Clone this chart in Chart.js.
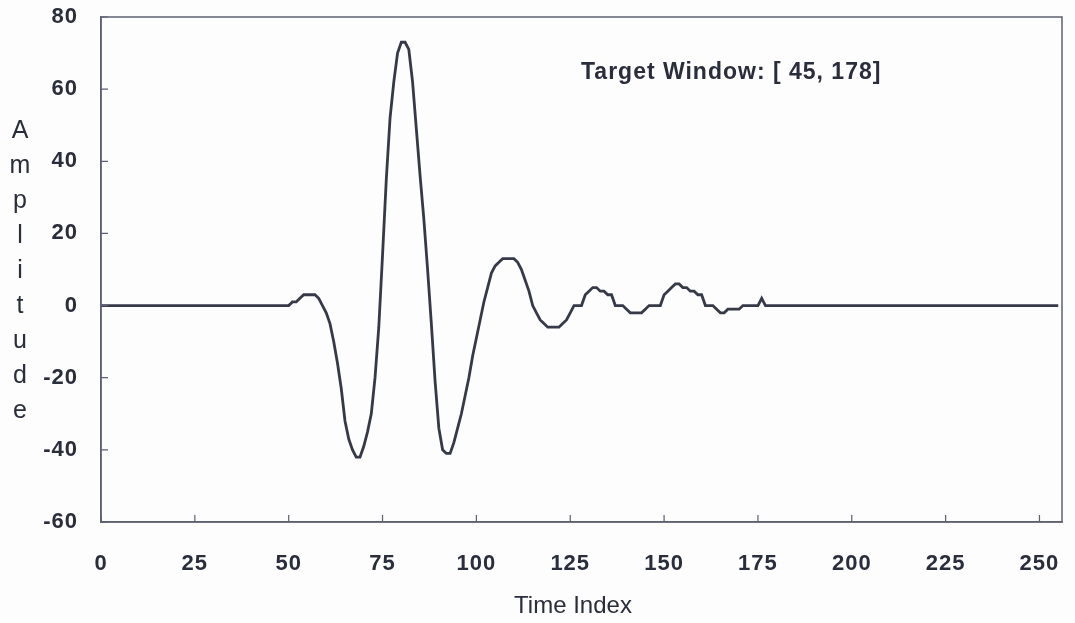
<!DOCTYPE html>
<html>
<head>
<meta charset="utf-8">
<script src="https://cdn.jsdelivr.net/npm/chart.js@4/dist/chart.umd.min.js"></script>
<style>
  html, body { margin: 0; padding: 0; background: #fdfdfd; }
  #waveChart { display: block; }
</style>
</head>
<body>
<canvas id="waveChart" width="1075" height="623"></canvas>
<script>
// sample positions along the time axis (flat baseline before 50 and after 178)
const timeIndex = [
  0,
  50, 51, 52, 53, 54, 55, 56, 57, 58, 59,
  60, 61, 62, 63, 64, 65, 66, 67, 68, 69,
  70, 71, 72, 73, 74, 75, 76, 77, 78, 79,
  80, 81, 82, 83, 84, 85, 86, 87, 88, 89,
  90, 91, 92, 93, 94, 95, 96, 97, 98, 99,
  100, 101, 102, 103, 104, 105, 106, 107, 108, 109,
  110, 111, 112, 113, 114, 115, 116, 117, 118, 119,
  120, 121, 122, 123, 124, 125, 126, 127, 128, 129,
  130, 131, 132, 133, 134, 135, 136, 137, 138, 139,
  140, 141, 142, 143, 144, 145, 146, 147, 148, 149,
  150, 151, 152, 153, 154, 155, 156, 157, 158, 159,
  160, 161, 162, 163, 164, 165, 166, 167, 168, 169,
  170, 171, 172, 173, 174, 175, 176, 177, 178,
  255
];
const amplitude = [
  0,
  0, 1, 1, 2, 3, 3, 3, 3, 2, 0,
  -2, -5, -10, -16, -23, -32, -37, -40, -42, -42,
  -39, -35, -30, -20, -6, 14, 35, 52, 62, 70,
  73, 73, 71, 62, 49, 36, 24, 10, -5, -21,
  -34, -40, -41, -41, -38, -34, -30, -25, -20, -14,
  -9, -4, 1, 5, 9, 11, 12, 13, 13, 13,
  13, 12, 10, 7, 4, 0, -2, -4, -5, -6,
  -6, -6, -6, -5, -4, -2, 0, 0, 0, 3,
  4, 5, 5, 4, 4, 3, 3, 0, 0, 0,
  -1, -2, -2, -2, -2, -1, 0, 0, 0, 0,
  3, 4, 5, 6, 6, 5, 5, 4, 4, 3,
  3, 0, 0, 0, -1, -2, -2, -1, -1, -1,
  -1, 0, 0, 0, 0, 0, 2, 0, 0,
  0
];
const xTicks = { min: 0, max: 256, step: 25 };
const yTicks = { min: -60, max: 80, step: 20 };
const yTitle = 'Amplitude';
const xTitle = 'Time Index';
const windowNote = 'Target Window: [ 45, 178]';

const inkColor = '#2a2d3b';
const frameColor = '#5d6070';
const fontFamily = '"Liberation Sans", Arial, sans-serif';

const points = timeIndex.map((t, i) => ({ x: t, y: amplitude[i] }));

// a little tracking on the tick numbers
const spacingPlugin = {
  id: 'spacing',
  beforeDraw(chart) { chart.ctx.letterSpacing = '1px'; },
  beforeDatasetsDraw(chart) { chart.ctx.letterSpacing = '0px'; }
};

// box around the plot, inward tick marks, axis titles and the note
const framePlugin = {
  id: 'frame',
  afterDraw(chart) {
    const ctx = chart.ctx;
    const area = chart.chartArea;
    const xs = chart.scales.x;
    const ys = chart.scales.y;
    ctx.save();
    ctx.strokeStyle = frameColor;
    ctx.lineWidth = 1.5;
    ctx.strokeRect(area.left, area.top, area.right - area.left, area.bottom - area.top);

    ctx.lineWidth = 1.2;
    ctx.beginPath();
    xs.ticks.forEach(t => {
      const px = xs.getPixelForValue(t.value);
      ctx.moveTo(px, area.bottom);
      ctx.lineTo(px, area.bottom - 7);
    });
    ys.ticks.forEach(t => {
      const py = ys.getPixelForValue(t.value);
      ctx.moveTo(area.left, py);
      ctx.lineTo(area.left + 7, py);
    });
    ctx.stroke();

    ctx.fillStyle = inkColor;
    ctx.letterSpacing = '0px';
    ctx.font = '25px ' + fontFamily;
    ctx.textAlign = 'center';
    ctx.textBaseline = 'middle';
    // y title: one letter per line
    yTitle.split('').forEach((ch, i) => {
      ctx.fillText(ch, 20, 131 + i * 35);
    });

    ctx.font = '24px ' + fontFamily;
    ctx.fillText(xTitle, 573, 606);

    ctx.font = 'bold 23px ' + fontFamily;
    ctx.letterSpacing = '1px';
    ctx.textAlign = 'left';
    ctx.fillText(windowNote, 581, 73);
    ctx.restore();
  }
};

const ctx = document.getElementById('waveChart').getContext('2d');
const waveChart = new Chart(ctx, {
  type: 'line',
  data: {
    datasets: [{
      data: points,
      borderColor: '#363947',
      borderWidth: 2.8,
      pointRadius: 0,
      tension: 0,
      fill: false
    }]
  },
  options: {
    responsive: false,
    animation: false,
    devicePixelRatio: 1,
    layout: { padding: { top: 17, right: 13, left: 0, bottom: 0 } },
    plugins: {
      legend: { display: false },
      tooltip: { enabled: false }
    },
    scales: {
      x: {
        type: 'linear',
        min: xTicks.min,
        max: xTicks.max,
        afterFit: scale => {
          scale.height = 101;
          scale.paddingLeft = 0;
          scale.paddingRight = 0;
        },
        border: { color: frameColor, width: 1.5 },
        grid: { drawOnChartArea: false, drawTicks: false },
        ticks: {
          stepSize: xTicks.step,
          includeBounds: false,
          padding: 29,
          color: inkColor,
          font: { family: fontFamily, size: 22, weight: 'bold' }
        }
      },
      y: {
        min: yTicks.min,
        max: yTicks.max,
        afterFit: scale => {
          scale.width = 101;
          scale.paddingTop = 0;
          scale.paddingBottom = 0;
        },
        border: { color: frameColor, width: 1.5 },
        grid: { drawOnChartArea: false, drawTicks: false },
        ticks: {
          stepSize: yTicks.step,
          padding: 23,
          color: inkColor,
          font: { family: fontFamily, size: 22, weight: 'bold' }
        }
      }
    }
  },
  plugins: [spacingPlugin, framePlugin]
});
</script>
</body>
</html>
